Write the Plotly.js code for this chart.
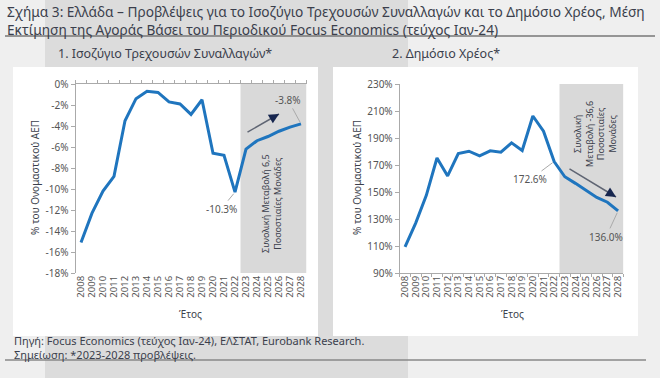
<!DOCTYPE html>
<html>
<head>
<meta charset="utf-8">
<script src="https://cdn.plot.ly/plotly-3.0.1.min.js"></script>
<style>html,body{margin:0;padding:0;background:#efefef;}#chart{width:660px;height:378px;}</style>
</head>
<body>
<div id="chart"></div>
<script>
// ---- data ----
const years = [2008,2009,2010,2011,2012,2013,2014,2015,2016,2017,2018,2019,2020,2021,2022,2023,2024,2025,2026,2027,2028];
const yearLabels = years.map(String);
const currentAccount = [-15.1,-12.3,-10.2,-8.8,-3.5,-1.4,-0.7,-0.8,-1.7,-1.9,-2.9,-1.5,-6.6,-6.8,-10.3,-6.2,-5.4,-5.0,-4.5,-4.1,-3.8];
const publicDebt = [109.4,127.0,147.5,175.2,161.9,178.4,180.2,176.7,180.5,179.5,186.4,180.7,206.3,195.0,172.6,161.3,156.4,151.0,146.0,142.4,136.0];
const caTicks = [0,-2,-4,-6,-8,-10,-12,-14,-16,-18];
const caTickText = caTicks.map(v => v + '%');
const debtTicks = [90,110,130,150,170,190,210,230];
const debtTickText = debtTicks.map(v => v + '%');
const forecastStart = 2022.5, forecastEnd = 2028.5;

const W = 660, H = 378;
const px = x => x / W;
const py = y => 1 - y / H;
const FONT = "Noto Sans, sans-serif";
const TXT = "#3b3f4c";
const BLUE = "#1f75be";

const traces = [
  {x: years, y: currentAccount, type: 'scatter', mode: 'lines', xaxis: 'x', yaxis: 'y',
   line: {color: BLUE, width: 3}, hoverinfo: 'x+y'},
  {x: years, y: publicDebt, type: 'scatter', mode: 'lines', xaxis: 'x2', yaxis: 'y2',
   line: {color: BLUE, width: 3}, hoverinfo: 'x+y'},
  {x: [years[0]], y: [0], xaxis: 'x3', yaxis: 'y', mode: 'none', hoverinfo: 'skip', showlegend: false},
  {x: [years[0]], y: [100], xaxis: 'x4', yaxis: 'y2', mode: 'none', hoverinfo: 'skip', showlegend: false}
];

const xRange = [2007.5, 2028.5];
const tickFont = {family: FONT, size: 9.5, color: '#555'};
const baseX = {
  range: xRange, tickvals: years, ticktext: yearLabels, tickangle: -90,
  tickfont: tickFont, showgrid: false, zeroline: false, ticks: '', showline: false, fixedrange: true
};
const tickAxis = {
  range: xRange, tick0: 2007.5, dtick: 1, tickmode: 'linear', showticklabels: false,
  ticks: 'outside', ticklen: 3, tickcolor: '#aaa', showline: true, linecolor: '#aaa', linewidth: 1,
  showgrid: false, zeroline: false, fixedrange: true
};
const baseY = {
  showgrid: false, zeroline: false, showline: true, linecolor: '#aaa', linewidth: 1,
  ticks: 'outside', ticklen: 4, tickcolor: '#aaa', tickfont: {family: FONT, size: 10, color: '#555'},
  fixedrange: true
};

const d1 = [px(75.5), px(306.5)], d2 = [px(399.7), px(623.4)], dy = [py(273), py(84)];

const layout = {
  width: W, height: H, margin: {l: 0, r: 0, t: 0, b: 0},
  paper_bgcolor: '#efefef', plot_bgcolor: 'rgba(0,0,0,0)', showlegend: false,
  font: {family: FONT, color: TXT},
  xaxis: Object.assign({}, baseX, {domain: d1, anchor: 'y'}),
  yaxis: Object.assign({}, baseY, {domain: dy, anchor: 'x', range: [-18, 0], tickmode: 'array', tickvals: caTicks, ticktext: caTickText}),
  xaxis2: Object.assign({}, baseX, {domain: d2, anchor: 'y2'}),
  yaxis2: Object.assign({}, baseY, {domain: dy, anchor: 'x2', range: [90, 230], tickmode: 'array', tickvals: debtTicks, ticktext: debtTickText}),
  xaxis3: Object.assign({}, tickAxis, {domain: d1, anchor: 'y', overlaying: 'x', side: 'top'}),
  xaxis4: Object.assign({}, tickAxis, {domain: d2, anchor: 'y2', overlaying: 'x2', side: 'bottom'}),
  shapes: [
    {type: 'rect', xref: 'paper', yref: 'paper', x0: px(45), x1: px(408), y0: 0, y1: 1, fillcolor: '#dcdcdc', line: {width: 0}, layer: 'below'},
    {type: 'rect', xref: 'paper', yref: 'paper', x0: px(13), x1: px(318), y0: py(336), y1: py(67), fillcolor: '#ffffff', line: {width: 0}, layer: 'below'},
    {type: 'rect', xref: 'paper', yref: 'paper', x0: px(333), x1: px(638), y0: py(336), y1: py(67), fillcolor: '#ffffff', line: {width: 0}, layer: 'below'},
    {type: 'line', xref: 'paper', yref: 'paper', x0: px(5), x1: px(655), y0: py(36), y1: py(36), line: {color: '#777', width: 1.5}},
    {type: 'line', xref: 'paper', yref: 'paper', x0: px(5), x1: px(646), y0: py(360), y1: py(360), line: {color: '#888', width: 1.5}},
    {type: 'rect', xref: 'x', yref: 'y domain', x0: forecastStart, x1: forecastEnd, y0: 0, y1: 1, fillcolor: '#d9d9d9', line: {width: 0}, layer: 'below'},
    {type: 'rect', xref: 'x2', yref: 'y2 domain', x0: forecastStart, x1: forecastEnd, y0: 0, y1: 1, fillcolor: '#d9d9d9', line: {width: 0}, layer: 'below'}
  ],
  annotations: []
};

const A = layout.annotations;
function txt(text, x, y, opts) {
  A.push(Object.assign({text: text, xref: 'paper', yref: 'paper', x: px(x), y: py(y), showarrow: false,
    xanchor: 'center', yanchor: 'middle',
    font: {family: FONT, size: 12, color: TXT}}, opts || {}));
}
// titles
txt('Σχήμα 3: Ελλάδα – Προβλέψεις για το Ισοζύγιο Τρεχουσών Συναλλαγών και το Δημόσιο Χρέος, Μέση<br>Εκτίμηση της Αγοράς Βάσει του Περιοδικού Focus Economics (τεύχος Ιαν-24)',
    5, 20.5, {xanchor: 'left', align: 'left', font: {family: FONT, size: 13.7, color: TXT}});
txt('1. Ισοζύγιο Τρεχουσών Συναλλαγών*', 56, 53, {xanchor: 'left', font: {family: FONT, size: 12.5, color: TXT}});
txt('2. Δημόσιο Χρέος*', 390, 53, {xanchor: 'left', font: {family: FONT, size: 12.5, color: TXT}});
// axis titles
txt('% του Ονομαστικού ΑΕΠ', 35, 178, {textangle: -90, font: {family: FONT, size: 10, color: TXT}});
txt('% του Ονομαστικού ΑΕΠ', 357, 178, {textangle: -90, font: {family: FONT, size: 10, color: TXT}});
txt('Έτος', 191, 314, {font: {family: FONT, size: 10, color: TXT}});
txt('Έτος', 512, 314, {font: {family: FONT, size: 10, color: TXT}});
// forecast notes
txt('Συνολική Μεταβολή 6,5<br>Ποσοστιαίες Μονάδες', 271, 204, {textangle: -90, font: {family: FONT, size: 9, color: TXT}});
txt('Συνολική<br>Μεταβολή -36,6<br>Ποσοστιαίες<br>Μονάδες', 595, 134, {textangle: -90, font: {family: FONT, size: 9, color: TXT}});
// footer
txt('Πηγή: Focus Economics (τεύχος Ιαν-24), ΕΛΣΤΑΤ, Eurobank Research.<br>Σημείωση: *2023-2028 προβλέψεις.',
    12, 347, {xanchor: 'left', align: 'left', font: {family: FONT, size: 11, color: TXT}});

// data labels with leader lines
function dlabel(xa, ya, idx, series, ax, ay) {
  A.push({xref: xa, yref: ya, x: years[idx], y: series[idx], text: series[idx].toFixed(1) + '%',
    showarrow: true, arrowhead: 0, arrowwidth: 1, arrowcolor: '#aaa', ax: ax, ay: ay, standoff: 2,
    font: {family: FONT, size: 10, color: '#555'}});
}
dlabel('x', 'y', years.indexOf(2028), currentAccount, -13, -24);
dlabel('x', 'y', years.indexOf(2022), currentAccount, -14, 17);
dlabel('x2', 'y2', years.indexOf(2022), publicDebt, -24, 18);
dlabel('x2', 'y2', years.indexOf(2028), publicDebt, -12, 26);

// trend arrows
function trend(x1, y1, x2, y2) {
  A.push({xref: 'paper', yref: 'paper', x: px(x2), y: py(y2), ax: x1 - x2, ay: y1 - y2, text: '',
    showarrow: true, arrowhead: 0, arrowwidth: 1.5, arrowcolor: '#5f6573'});
  const dx = x2 - x1, dyy = y2 - y1, L = Math.hypot(dx, dyy);
  A.push({xref: 'paper', yref: 'paper', x: px(x2), y: py(y2), ax: -dx / L * 9, ay: -dyy / L * 9, text: '',
    showarrow: true, arrowhead: 2, arrowsize: 1, arrowwidth: 2, arrowcolor: '#17264f'});
}
trend(246, 133, 279, 114);
trend(568, 168, 616, 197);

Plotly.newPlot('chart', traces, layout, {displayModeBar: false, staticPlot: true});
</script>
</body>
</html>
